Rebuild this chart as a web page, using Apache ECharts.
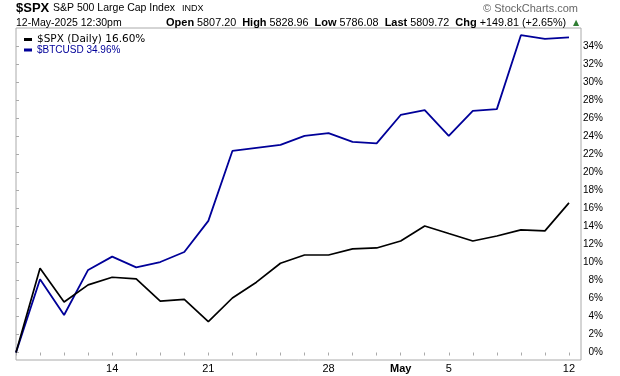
<!DOCTYPE html>
<html>
<head>
<meta charset="utf-8">
<script src="https://cdn.jsdelivr.net/npm/echarts@6/dist/echarts.min.js"></script>
<style>
  html, body { margin: 0; padding: 0; background: #fff; }
  #chart { width: 620px; height: 376px; }
</style>
</head>
<body>
<div id="chart"></div>
<script>
// trading days, 8-Apr to 12-May 2025
const dates = ['Apr 8', 'Apr 9', 'Apr 10', 'Apr 11', 'Apr 14', 'Apr 15', 'Apr 16', 'Apr 17',
  'Apr 21', 'Apr 22', 'Apr 23', 'Apr 24', 'Apr 25', 'Apr 28', 'Apr 29', 'Apr 30',
  'May 1', 'May 2', 'May 5', 'May 6', 'May 7', 'May 8', 'May 9', 'May 12']
const labelDates = ['Apr 14', 'Apr 21', 'Apr 28', 'May 1', 'May 5', 'May 12']
const yTicks = [0, 2, 4, 6, 8, 10, 12, 14, 16, 18, 20, 22, 24, 26, 28, 30, 32, 34]

// % change since 8-Apr
const spx = [0, 9.34, 5.6, 7.5, 8.35, 8.16, 5.7, 5.9, 3.42, 6.05, 7.8, 9.9,
  10.82, 10.82, 11.49, 11.6, 12.37, 14.04, 13.2, 12.37, 12.93, 13.6, 13.49, 16.6]
const btc = [0, 8.12, 4.16, 9.16, 10.64, 9.45, 10.04, 11.15, 14.6, 22.36, 22.7, 23.03,
  24.03, 24.33, 23.36, 23.2, 26.35, 26.9, 24.03, 26.8, 27.0, 35.2, 34.8, 34.96]

const chart = echarts.init(document.getElementById('chart'))

const toPairs = arr => arr.map((v, i) => [i, v])
const last = arr => arr[arr.length - 1].toFixed(2) + '%'

chart.setOption({
  animation: false,
  backgroundColor: '#fff',
  grid: {
    show: true,
    left: 16,
    right: 39,
    top: 28,
    bottom: 16,
    borderColor: '#aaa',
    borderWidth: 1,
    backgroundColor: '#fff'
  },
  legend: {
    orient: 'vertical',
    left: 19,
    top: 29,
    itemGap: 0,
    itemWidth: 8,
    itemHeight: 3,
    icon: 'rect',
    formatter: name => name === '$SPX (Daily)' ? name + ' ' + last(spx) : name + ' ' + last(btc),
    data: [
      { name: '$SPX (Daily)', textStyle: { color: '#000', fontFamily: 'DejaVu Sans', fontSize: 10.5, lineHeight: 10 } },
      { name: '$BTCUSD', textStyle: { color: '#000099', fontFamily: 'Liberation Sans', fontSize: 10, lineHeight: 10 } }
    ]
  },
  xAxis: {
    type: 'value',
    min: 0,
    max: 23.5,
    axisLine: { show: false },
    splitLine: { show: false },
    axisTick: {
      customValues: dates.map((d, i) => i),
      length: 3,
      lineStyle: { color: '#aaa' }
    },
    axisLabel: {
      customValues: labelDates.map(d => dates.indexOf(d)),
      margin: 3,
      fontFamily: 'Liberation Sans',
      fontSize: 11,
      color: '#000',
      formatter: v => {
        const [mon, day] = dates[v].split(' ')
        return day === '1' ? '{m|' + mon + '}' : day
      },
      rich: { m: { fontWeight: 'bold', fontFamily: 'Liberation Sans', fontSize: 11, color: '#000' } }
    }
  },
  yAxis: {
    type: 'value',
    position: 'right',
    min: -0.83,
    max: 36,
    axisLine: { show: false },
    splitLine: { show: false },
    axisTick: {
      customValues: yTicks,
      length: 3,
      lineStyle: { color: '#aaa' }
    },
    axisLabel: {
      customValues: yTicks,
      formatter: v => v + '%',
      align: 'right',
      margin: 22,
      fontFamily: 'Liberation Sans',
      fontSize: 10,
      color: '#000'
    }
  },
  series: [
    {
      name: '$SPX (Daily)',
      type: 'line',
      data: toPairs(spx),
      symbol: 'none',
      color: '#000',
      lineStyle: { width: 1.7, color: '#000' },
      z: 3
    },
    {
      name: '$BTCUSD',
      type: 'line',
      data: toPairs(btc),
      symbol: 'none',
      color: '#000099',
      lineStyle: { width: 1.8, color: '#000099' },
      z: 2
    }
  ],
  graphic: [
    {
      type: 'text', x: 16, y: 8,
      style: { text: '$SPX', font: 'bold 13px "Liberation Sans"', fill: '#000', verticalAlign: 'middle' }
    },
    {
      type: 'text', x: 53, y: 8,
      style: { text: 'S&P 500 Large Cap Index', font: '10.5px "Liberation Sans"', fill: '#000', verticalAlign: 'middle' }
    },
    {
      type: 'text', x: 182, y: 8.5,
      style: { text: 'INDX', font: '9px "Liberation Sans"', fill: '#000', verticalAlign: 'middle' }
    },
    {
      type: 'text', x: 578, y: 9,
      style: { text: '© StockCharts.com', font: '11px "Liberation Sans"', fill: '#666', align: 'right', verticalAlign: 'middle' }
    },
    {
      type: 'text', x: 16, y: 23,
      style: { text: '12-May-2025 12:30pm', font: '10.5px "Liberation Sans"', fill: '#000', verticalAlign: 'middle' }
    },
    {
      type: 'text', x: 166, y: 23,
      style: {
        text: '{b|Open} 5807.20  {b|High} 5828.96  {b|Low} 5786.08  {b|Last} 5809.72  {b|Chg} +149.81 (+2.65%)',
        font: '10.8px "Liberation Sans"',
        fill: '#000',
        verticalAlign: 'middle',
        rich: { b: { fontWeight: 'bold', fontFamily: 'Liberation Sans', fontSize: 11, fill: '#000' } }
      }
    },
    {
      type: 'text', x: 576, y: 22.5,
      style: { text: '▲', font: '8px "DejaVu Sans"', fill: '#2e7d32', align: 'center', verticalAlign: 'middle' }
    }
  ]
})
</script>
</body>
</html>
